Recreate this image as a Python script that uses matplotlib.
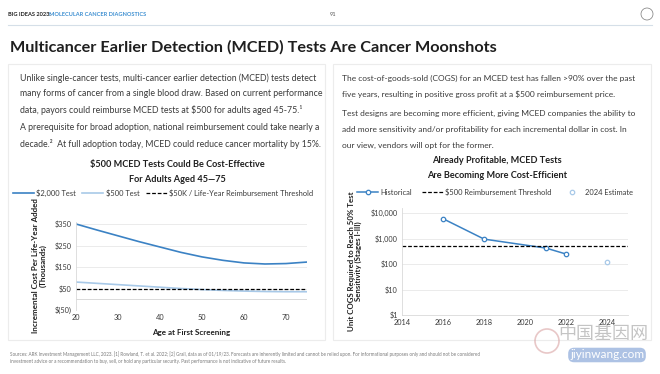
import matplotlib
matplotlib.use("Agg")
import matplotlib.pyplot as plt
from matplotlib.ticker import FuncFormatter, FixedLocator
from matplotlib.patches import FancyBboxPatch, Circle
from matplotlib.lines import Line2D

plt.rcParams['text.parse_math'] = False
plt.rcParams['font.family'] = ['Lato', 'DejaVu Sans']

# left chart: incremental cost per life-year added (thousands $)
ages = [20, 25, 30, 35, 40, 45, 50, 55, 60, 65, 70, 75]
cost_2000 = [350, 322, 295, 268, 243, 218, 197, 181, 169, 164, 166, 173]
cost_500 = [80, 74, 68, 62, 56, 50, 45, 41, 38, 36, 35, 35]
threshold_50k = 50

# right chart: unit COGS
hist_years = [2016, 2018, 2021, 2022]
hist_cogs = [6000, 950, 425, 245]
est_year = [2024]
est_cogs = [120]
threshold_500 = 500

W, H = 660, 374
DARK = "#1f1f1f"
TXT = "#3a3a3a"
BLUE = "#3b82c4"
LIGHT = "#a8c9e8"
GRID = "#e8e8e8"


def fx(x):
    return x / W


def fy(y):
    return 1 - y / H


fig = plt.figure(figsize=(6.6, 3.74), dpi=100)
fig.patch.set_facecolor("white")

# header
fig.text(fx(8), fy(14), "BIG IDEAS 2023:", fontsize=4.1, fontweight="bold", color=DARK, va="center")
fig.text(fx(49), fy(14), "MOLECULAR CANCER DIAGNOSTICS", fontsize=4.1, fontweight="bold",
         color="#3d8fd1", va="center")
fig.text(fx(330), fy(14), "91", fontsize=4.1, color="#555555", va="center")
fig.add_artist(Circle((6.47, 3.74 - 0.14), 0.06, transform=fig.dpi_scale_trans, fill=False,
                      ec="#777777", lw=0.5))
fig.add_artist(Line2D([fx(8), fx(652)], [fy(25), fy(25)], color="#d5dfe8", lw=0.8))

fig.text(fx(10), fy(47), "Multicancer Earlier Detection (MCED) Tests Are Cancer Moonshots",
         fontsize=11.7, fontweight="bold", color=DARK, va="center")

# panels
for x0, x1 in [(8, 325), (333, 651)]:
    fig.add_artist(FancyBboxPatch((fx(x0), fy(340)), fx(x1 - x0), (340 - 64) / H,
                                  boxstyle="square,pad=0", transform=fig.transFigure,
                                  fc="white", ec="#ececec", lw=0.8, zorder=0))

body = dict(fontsize=6.27, color=TXT, va="center")
left_lines = [
    (78, "Unlike single-cancer tests, multi-cancer earlier detection (MCED) tests detect"),
    (94, "many forms of cancer from a single blood draw. Based on current performance"),
    (110, "data, payors could reimburse MCED tests at $500 for adults aged 45-75.¹"),
    (128, "A prerequisite for broad adoption, national reimbursement could take nearly a"),
    (144, "decade.²  At full adoption today, MCED could reduce cancer mortality by 15%."),
]
for y, s in left_lines:
    fig.text(fx(20), fy(y), s, **body)

body_r = dict(body, fontsize=6.05)
right_lines = [
    (78, "The cost-of-goods-sold (COGS) for an MCED test has fallen >90% over the past"),
    (94, "five years, resulting in positive gross profit at a $500 reimbursement price."),
    (113, "Test designs are becoming more efficient, giving MCED companies the ability to"),
    (129, "add more sensitivity and/or profitability for each incremental dollar in cost. In"),
    (145, "our view, vendors will opt for the former."),
]
for y, s in right_lines:
    fig.text(fx(342), fy(y), s, **body_r)

# chart titles
ttl = dict(fontsize=6.6, fontweight="bold", color=DARK, ha="center", va="center")
fig.text(fx(177), fy(165), "$500 MCED Tests Could Be Cost-Effective", **ttl)
fig.text(fx(177), fy(179), "For Adults Aged 45—75", **ttl)
fig.text(fx(497), fy(161), "Already Profitable, MCED Tests", **ttl)
fig.text(fx(497), fy(175), "Are Becoming More Cost-Efficient", **ttl)

# ---- left chart
ylo, yhi = -50, 360
top_px = 310 - (yhi - ylo) * (86 / 400)
ax1 = fig.add_axes([fx(76), fy(310), fx(307 - 76), (310 - top_px) / H])
ax1.plot(ages, cost_2000, color=BLUE, lw=1.2, label="$2,000 Test")
ax1.plot(ages, cost_500, color=LIGHT, lw=1.2, label="$500 Test")
ax1.axhline(threshold_50k, color="black", lw=0.9, ls=(0, (3, 1.5)),
            label="$50K / Life-Year Reimbursement Threshold")
ax1.axhline(0, color="#d9d9d9", lw=0.7, zorder=0)
ax1.set_xlim(20, 75)
ax1.set_ylim(ylo, yhi)
ax1.yaxis.set_major_locator(FixedLocator([-50, 50, 150, 250, 350]))
ax1.yaxis.set_major_formatter(FuncFormatter(lambda v, p: f"$({abs(int(v))})" if v < 0 else f"${int(v)}"))
ax1.set_xticks([20, 30, 40, 50, 60, 70])
ax1.grid(axis="y", color=GRID, lw=0.6)
ax1.set_axisbelow(True)
for s in ["top", "right", "bottom"]:
    ax1.spines[s].set_visible(False)
ax1.spines["left"].set_color("#d9d9d9")
ax1.spines["left"].set_linewidth(0.6)
ax1.tick_params(length=0, labelsize=5.3, colors=TXT, pad=3)
ax1.set_xlabel("Age at First Screening", fontsize=5.8, fontweight="bold", color=DARK, labelpad=6)
ax1.set_ylabel("Incremental Cost Per Life-Year Added\n(Thousands)", fontsize=5.8,
               fontweight="bold", color=DARK, labelpad=6, linespacing=1.1)
ax1.legend(loc="center", bbox_to_anchor=(fx(163), fy(193)), bbox_transform=fig.transFigure,
           ncol=3, frameon=False, fontsize=5.4, handlelength=2.8, columnspacing=0.9,
           handletextpad=0.3, labelcolor=TXT)

# ---- right chart
ax2 = fig.add_axes([fx(402), fy(315), fx(628 - 402), (315 - 208) / H])
ax2.set_yscale("log")
ax2.plot(hist_years, hist_cogs, color=BLUE, lw=1.1, marker="o", ms=3.2, mfc="white",
         mec=BLUE, mew=0.9, label="Historical")
ax2.axhline(threshold_500, color="black", lw=0.9, ls=(0, (3, 1.5)),
            label="$500 Reimbursement Threshold")
ax2.plot(est_year, est_cogs, ls="none", marker="o", ms=3.2, mfc="white", mec=LIGHT,
         mew=0.9, label="2024 Estimate")
ax2.set_xlim(2014, 2025)
ax2.set_ylim(1, 10 ** 4.2)
ax2.yaxis.set_major_locator(FixedLocator([1, 10, 100, 1000, 10000]))
ax2.yaxis.set_minor_locator(FixedLocator([]))
ax2.yaxis.set_major_formatter(FuncFormatter(lambda v, p: f"${int(v):,}"))
ax2.set_xticks([2014, 2016, 2018, 2020, 2022, 2024])
ax2.grid(axis="y", color=GRID, lw=0.6)
ax2.set_axisbelow(True)
for s in ["top", "right"]:
    ax2.spines[s].set_visible(False)
for s in ["left", "bottom"]:
    ax2.spines[s].set_color("#d9d9d9")
    ax2.spines[s].set_linewidth(0.6)
ax2.tick_params(length=0, labelsize=5.3, colors=TXT, pad=3)
ax2.set_ylabel("Unit COGS Required to Reach 50% Test\nSensitivity (Stages I-III)", fontsize=5.7,
               fontweight="bold", color=DARK, labelpad=6, linespacing=1.1)
ax2.legend(loc="center", bbox_to_anchor=(fx(495), fy(192)), bbox_transform=fig.transFigure,
           ncol=3, frameon=False, fontsize=5.4, handlelength=2.8, columnspacing=1.3,
           handletextpad=0.3, labelcolor=TXT)

# footer
foot = dict(fontsize=3.35, color="#7a7a7a", va="center")
fig.text(fx(10), fy(354), "Sources: ARK Investment Management LLC, 2023. [1] Rowland, T. et al. 2022; [2] Grail, "
         "data as of 01/19/23. Forecasts are inherently limited and cannot be relied upon. For informational "
         "purposes only and should not be considered", **foot)
fig.text(fx(10), fy(361), "investment advice or a recommendation to buy, sell, or hold any particular "
         "security. Past performance is not indicative of future results.", **foot)

# watermark
fig.text(fx(603), fy(334), "中国基因网", fontsize=13, color="#8a8a8a", alpha=0.5, ha="center",
         va="center", family=["Noto Sans CJK SC", "DejaVu Sans"])
fig.text(fx(607), fy(355), "jiyinwang.com", fontsize=8.5, color="white", ha="center", va="center",
         bbox=dict(boxstyle="round,pad=0.15,rounding_size=0.5", fc="#9fb8e0", ec="none", alpha=0.85))
fig.add_artist(Circle((5.47, 3.74 - 3.41), 0.12, transform=fig.dpi_scale_trans, fill=False,
                      ec="#d9a3a3", lw=1.2, alpha=0.6))

fig.savefig("out.png", dpi=100)
